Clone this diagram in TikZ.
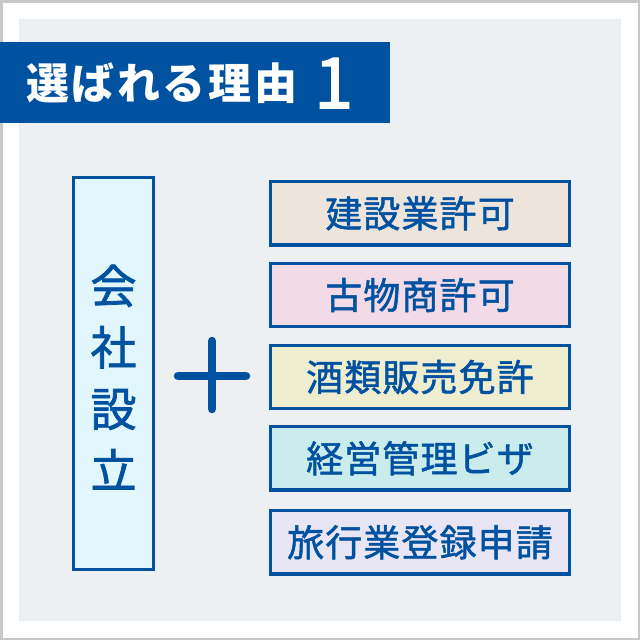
\documentclass[tikz,border=0pt]{standalone}
\usepackage{fontspec}
\newfontfamily\jp{Noto Sans CJK JP}
\newfontfamily\jpmed[FakeBold=1.6]{Noto Sans CJK JP}
\newfontfamily\jpls[LetterSpace=3,FakeBold=1.4]{Noto Sans CJK JP}
\newfontfamily\jptitle[LetterSpace=6]{Noto Sans CJK JP}
\newfontfamily\jpnum[FakeBold=2.2]{Noto Sans CJK JP}
\definecolor{mainblue}{HTML}{0052A1}
\definecolor{bggray}{HTML}{EDF0F2}
\definecolor{edgegray}{HTML}{C8C8C8}
\definecolor{cyanfill}{HTML}{E2F6FD}
\definecolor{fillA}{HTML}{EDE4DC}
\definecolor{fillB}{HTML}{F2DAE6}
\definecolor{fillC}{HTML}{EFEDD0}
\definecolor{fillD}{HTML}{CBECEC}
\definecolor{fillE}{HTML}{E8E6F4}
\tikzset{
  itembox/.style={draw=mainblue, line width=3.4pt, minimum width=298.6pt, minimum height=63.4pt,
    inner sep=0pt, text=mainblue, font=\jpls\fontsize{37}{40}\selectfont},
  mainbox/.style={draw=mainblue, line width=3pt, fill=cyanfill, minimum width=80pt, minimum height=392pt, inner sep=0pt},
  plusbar/.style={draw=mainblue, line width=8.5pt, line cap=round}
}
\begin{document}
\begin{tikzpicture}[x=1pt,y=-1pt]
\useasboundingbox (0,0) rectangle (640,640);
\fill[white] (0,0) rectangle (640,640);
\draw[edgegray, line width=2.5pt] (1.25,1.25) rectangle (638.75,638.75);
\fill[bggray] (19,19) rectangle (621,621);
% banner
\fill[mainblue] (0,42) rectangle (390,123);
\node[anchor=base west, inner sep=0pt, text=white, font=\jptitle\bfseries\fontsize{43}{46}\selectfont] (title) at (26,99) {選ばれる理由};
\node[anchor=base west, inner sep=0pt, text=white, font=\jpnum\fontsize{70}{70}\selectfont] (num) at (314,108) {1};
% left box
\node[mainbox] (company) at (113.5,373.5) {};
\node[text=mainblue, align=center, inner sep=0pt, font=\jpmed\fontsize{46}{61.5}\selectfont] (companytext) at (113.5,377) {会\\社\\設\\立};
% plus
\coordinate (pt) at (212,341);
\coordinate (pb) at (212,409);
\coordinate (pl) at (178,376);
\coordinate (pr) at (246,376);
\draw[plusbar] (pt) -- (pb);
\draw[plusbar] (pl) -- (pr);
% items
\node[itembox, fill=fillA] (b1) at (420,213.3) {建設業許可};
\node[itembox, fill=fillB] (b2) at (420,295) {古物商許可};
\node[itembox, fill=fillC] (b3) at (420,377) {酒類販売免許};
\node[itembox, fill=fillD] (b4) at (420,458.3) {経営管理ビザ};
\node[itembox, fill=fillE] (b5) at (420,542.3) {旅行業登録申請};
\end{tikzpicture}
\end{document}
